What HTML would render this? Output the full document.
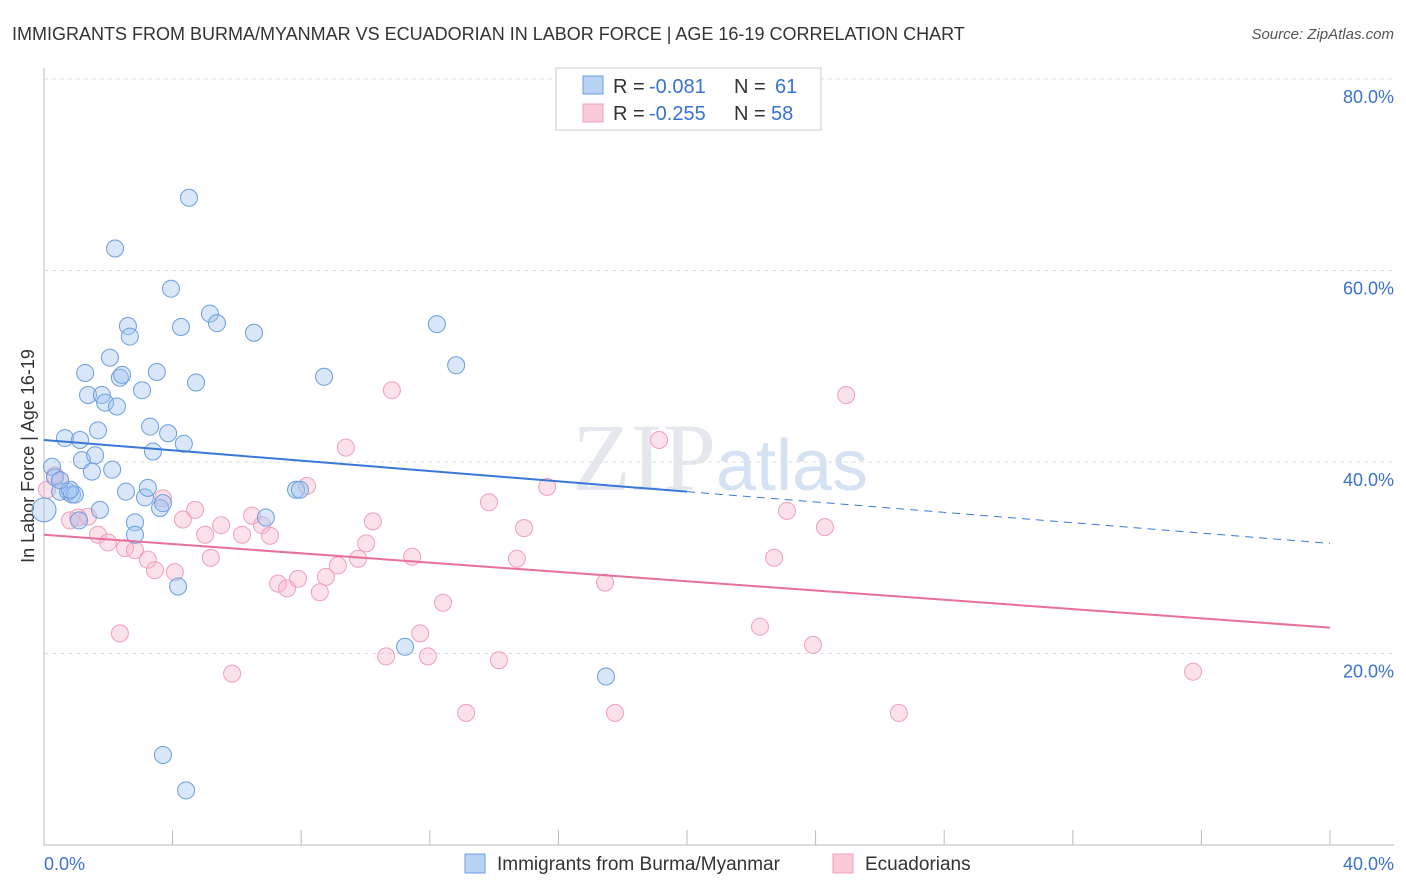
<!DOCTYPE html>
<html><head><meta charset="utf-8"><style>
body{margin:0;background:#fff;font-family:"Liberation Sans",sans-serif;}
svg{display:block}
</style></head><body>
<svg id="c" width="1406" height="892" xmlns="http://www.w3.org/2000/svg">
<text x="12" y="40" font-size="18" fill="#333">IMMIGRANTS FROM BURMA/MYANMAR VS ECUADORIAN IN LABOR FORCE | AGE 16-19 CORRELATION CHART</text>
<text x="1394" y="39" font-size="15" fill="#555" font-style="italic" text-anchor="end">Source: ZipAtlas.com</text>
<text x="720" y="490" font-size="96" fill="#e4e8ee" text-anchor="middle" font-family="Liberation Serif,serif">ZIP<tspan fill="#d4e2f4" font-family="Liberation Sans,sans-serif" font-size="72">atlas</tspan></text>
<text transform="translate(34,456) rotate(-90)" font-size="18" fill="#333" text-anchor="middle">In Labor Force | Age 16-19</text>
<g id="grid"></g><g id="marks"></g>
<g>
<rect x="556" y="68" width="265" height="62" fill="#fff" stroke="#ccc"/>
<rect x="583" y="76" width="20" height="18" fill="#b8d2f4" stroke="#6a9ee0"/>
<rect x="583" y="104" width="20" height="18" fill="#f9cbd9" stroke="#f0a0b8"/>
<g font-size="20">
<text x="613" y="93" fill="#333">R =</text><text x="649" y="93" fill="#3a72d0">-0.081</text>
<text x="734" y="93" fill="#333">N =</text><text x="775" y="93" fill="#3a72d0">61</text></g>
<g font-size="20">
<text x="613" y="120" fill="#333">R =</text><text x="649" y="120" fill="#3a72d0">-0.255</text>
<text x="734" y="120" fill="#333">N =</text><text x="771" y="120" fill="#3a72d0">58</text></g>
</g>
<g>
<rect x="465" y="854" width="20" height="19" fill="#b8d2f4" stroke="#6a9ee0"/>
<text x="497" y="870" font-size="19" fill="#333">Immigrants from Burma/Myanmar</text>
<rect x="833" y="854" width="20" height="19" fill="#f9cbd9" stroke="#f0a0b8"/>
<text x="865" y="870" font-size="19" fill="#333">Ecuadorians</text>
</g>
<text x="44" y="870" font-size="18" fill="#3a72d0">0.0%</text>
<text x="1394" y="870" font-size="18" fill="#3a72d0" text-anchor="end">40.0%</text>
</svg>
<script>
const yTicks=[20,40,60,80];
const blueX=[0.0,0.25,0.34,0.5,0.65,0.75,0.87,0.96,1.12,1.18,1.28,1.37,1.49,1.59,1.68,1.74,1.8,1.9,2.05,2.12,2.21,2.27,2.36,2.43,2.55,2.61,2.67,2.83,2.83,3.05,3.14,3.23,3.3,3.39,3.51,3.61,3.7,3.7,3.86,3.95,4.17,4.26,4.35,4.42,4.51,4.73,5.16,5.38,6.53,6.9,7.84,7.96,8.71,11.23,12.22,12.82,17.48,1.09,0.81,0.5];
const blueY=[35.0,39.5,38.4,36.9,42.5,36.9,36.6,36.6,42.3,40.2,49.3,47.0,39.0,40.7,43.3,35.0,47.0,46.2,50.9,39.2,62.3,45.8,48.8,49.1,36.9,54.2,53.1,33.7,32.4,47.5,36.3,37.3,43.7,41.1,49.4,35.2,35.7,9.4,43.0,58.1,27.0,54.1,41.9,5.7,67.6,48.3,55.5,54.5,53.5,34.2,37.1,37.1,48.9,20.7,54.4,50.1,17.6,33.9,37.1,38.1];
const pinkX=[0.09,0.34,0.5,0.81,1.06,1.37,1.68,1.99,2.36,2.52,2.83,3.23,3.45,3.7,4.07,4.32,4.7,5.01,5.19,5.51,5.85,6.16,6.47,6.78,7.03,7.28,7.56,7.9,8.18,8.58,8.77,9.14,9.39,9.77,10.02,10.23,10.64,10.82,11.45,11.7,11.94,12.41,13.13,13.84,14.15,14.71,14.93,15.65,17.45,17.76,19.13,22.27,22.71,23.11,23.92,24.29,24.95,26.59,35.74];
const pinkY=[37.1,38.6,38.1,33.9,34.2,34.3,32.4,31.6,22.1,31.0,30.8,29.8,28.7,36.2,28.5,34.0,35.0,32.4,30.0,33.4,17.9,32.4,34.4,33.4,32.3,27.3,26.8,27.8,37.5,26.4,28.0,29.2,41.5,29.9,31.5,33.8,19.7,47.5,30.1,22.1,19.7,25.3,13.8,35.8,19.3,29.9,33.1,37.4,27.4,13.8,42.3,22.8,30.0,34.9,20.9,33.2,47.0,13.8,18.1];
const blueTrend=[42.3,31.5];
const pinkTrend=[32.4,22.7];
const NS="http://www.w3.org/2000/svg";
const X=v=>44+v*32.15, Y=v=>845-v*9.575;
const grid=document.getElementById('grid'), marks=document.getElementById('marks');
function mk(tag,at,p){const e=document.createElementNS(NS,tag);for(const k in at)e.setAttribute(k,at[k]);(p||marks).appendChild(e);return e;}
let ax=mk('line',{x1:44,y1:68,x2:44,y2:845,stroke:'#bbb'},grid);


let bx=mk('line',{x1:44,y1:845,x2:1394,y2:845,stroke:'#bbb'},grid);


for(let i=1;i<=10;i++){let t=mk('line',{x1:X(i*4),y1:830,x2:X(i*4),y2:845,stroke:'#bbb'},grid);

}
yTicks.forEach(v=>{let g=mk('line',{x1:44,y1:Y(v),x2:1394,y2:Y(v),stroke:'#ddd','stroke-dasharray':'4,4'},grid);


let t=mk('text',{x:1394,y:Y(v)+24,'font-size':18,fill:'#3a72d0','text-anchor':'end'},grid);t.textContent=v.toFixed(1)+'%';

});
pinkX.forEach((x,i)=>{let c=mk('circle',{cx:X(x),cy:Y(pinkY[i]),r:8.5,fill:'rgba(246,180,202,0.4)',stroke:'#f0a0b8','stroke-width':1});

});
blueX.forEach((x,i)=>{let c=mk('circle',{cx:X(x),cy:Y(blueY[i]),r:i==0?12:8.5,fill:'rgba(160,195,240,0.4)',stroke:'#6a9ee0','stroke-width':1});

});
const bm=blueTrend[0]+(blueTrend[1]-blueTrend[0])*0.5;
let l1=mk('line',{x1:X(0),y1:Y(blueTrend[0]),x2:X(20),y2:Y(bm),stroke:'#3a78d8','stroke-width':2});


let l2=mk('line',{x1:X(20),y1:Y(bm),x2:X(40),y2:Y(blueTrend[1]),stroke:'#3a78d8','stroke-width':1,'stroke-dasharray':'8,6'});


let l3=mk('line',{x1:X(0),y1:Y(pinkTrend[0]),x2:X(40),y2:Y(pinkTrend[1]),stroke:'#e8709a','stroke-width':2});


</script>
</body></html>
